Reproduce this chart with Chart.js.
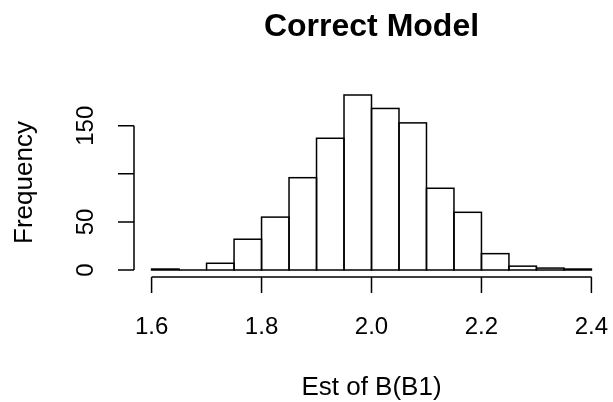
<!DOCTYPE html>
<html>
<head>
<meta charset="utf-8">
<title>Correct Model</title>
<script src="https://cdn.jsdelivr.net/npm/chart.js@4.4.1/dist/chart.umd.min.js"></script>
<style>
  html, body { margin: 0; padding: 0; background: #fff; }
  canvas { display: block; }
</style>
</head>
<body>
<canvas id="hist" width="613" height="402"></canvas>
<script>
// histogram bins (left edges, width 0.05) and counts
const binStarts = [1.60, 1.65, 1.70, 1.75, 1.80, 1.85, 1.90, 1.95, 2.00, 2.05, 2.10, 2.15, 2.20, 2.25, 2.30, 2.35];
const counts = [1, 0, 7, 32, 55, 96, 137, 182, 168, 153, 85, 60, 17, 4, 2, 1];
const binWidth = 0.05;

const xTicks = [1.6, 1.8, 2.0, 2.2, 2.4];
const yTicks = [0, 50, 100, 150];
const yTickLabels = ["0", "50", "", "150"];

const titleText = "Correct Model";
const xLabel = "Est of B(B1)";
const yLabel = "Frequency";

// R-style 4% range extension
const xLo = binStarts[0];
const xHi = binStarts[binStarts.length - 1] + binWidth;
const xPad = (xHi - xLo) * 0.04;
const yMax = Math.max(...counts);
const yPad = yMax * 0.04;

const points = binStarts.map((b, i) => ({ x: b + binWidth / 2, y: counts[i] }));

const FONT = '"Liberation Sans", Arial, sans-serif';
const LINE = 1.5;

// Chart.js shrinks borders on very short bars, so outline every bar here
const barOutlines = {
  id: "barOutlines",
  afterDatasetsDraw(chart) {
    const { ctx } = chart;
    ctx.save();
    ctx.strokeStyle = "#000";
    ctx.lineWidth = LINE;
    chart.getDatasetMeta(0).data.forEach(bar => {
      const { x, y, base, width } = bar.getProps(["x", "y", "base", "width"], true);
      ctx.strokeRect(x - width / 2, Math.min(y, base), width, Math.abs(base - y));
    });
    ctx.restore();
  }
};

// axes, ticks and labels drawn the way base R graphics does
const rAxes = {
  id: "rAxes",
  afterDraw(chart) {
    const { ctx, chartArea, scales } = chart;
    const x = scales.x, y = scales.y;
    ctx.save();
    ctx.strokeStyle = "#000";
    ctx.fillStyle = "#000";
    ctx.lineWidth = LINE;

    // x axis
    const xb = chartArea.bottom;
    ctx.beginPath();
    ctx.moveTo(x.getPixelForValue(xTicks[0]), xb);
    ctx.lineTo(x.getPixelForValue(xTicks[xTicks.length - 1]), xb);
    xTicks.forEach(v => {
      const px = x.getPixelForValue(v);
      ctx.moveTo(px, xb);
      ctx.lineTo(px, xb + 16);
    });
    ctx.stroke();

    ctx.font = "24px " + FONT;
    ctx.textAlign = "center";
    ctx.textBaseline = "middle";
    xTicks.forEach(v => ctx.fillText(v.toFixed(1), x.getPixelForValue(v), xb + 50));

    // y axis
    const yl = chartArea.left;
    ctx.beginPath();
    ctx.moveTo(yl, y.getPixelForValue(yTicks[0]));
    ctx.lineTo(yl, y.getPixelForValue(yTicks[yTicks.length - 1]));
    yTicks.forEach(v => {
      const py = y.getPixelForValue(v);
      ctx.moveTo(yl, py);
      ctx.lineTo(yl - 16, py);
    });
    ctx.stroke();

    yTicks.forEach((v, i) => {
      if (!yTickLabels[i]) return;
      ctx.save();
      ctx.translate(yl - 48, y.getPixelForValue(v));
      ctx.rotate(-Math.PI / 2);
      ctx.fillText(yTickLabels[i], 0, 0);
      ctx.restore();
    });

    // axis titles
    ctx.font = "26px " + FONT;
    ctx.fillText(xLabel, (chartArea.left + chartArea.right) / 2, 388);
    ctx.save();
    ctx.translate(25, (chartArea.top + chartArea.bottom) / 2);
    ctx.rotate(-Math.PI / 2);
    ctx.fillText(yLabel, 0, 0);
    ctx.restore();

    // main title
    ctx.font = "bold 32px " + FONT;
    ctx.fillText(titleText, (chartArea.left + chartArea.right) / 2, 27);
    ctx.restore();
  }
};

new Chart(document.getElementById("hist"), {
  type: "bar",
  data: {
    datasets: [{
      data: points,
      backgroundColor: "#fff",
      borderWidth: 0,
      barPercentage: 1,
      categoryPercentage: 1
    }]
  },
  options: {
    responsive: false,
    animation: false,
    layout: { padding: { left: 134, right: 4, top: 88, bottom: 125 } },
    plugins: {
      legend: { display: false },
      tooltip: { enabled: false }
    },
    scales: {
      x: { type: "linear", display: false, min: xLo - xPad, max: xHi + xPad, offset: false },
      y: { display: false, min: -yPad, max: yMax + yPad }
    }
  },
  plugins: [barOutlines, rAxes]
});
</script>
</body>
</html>
